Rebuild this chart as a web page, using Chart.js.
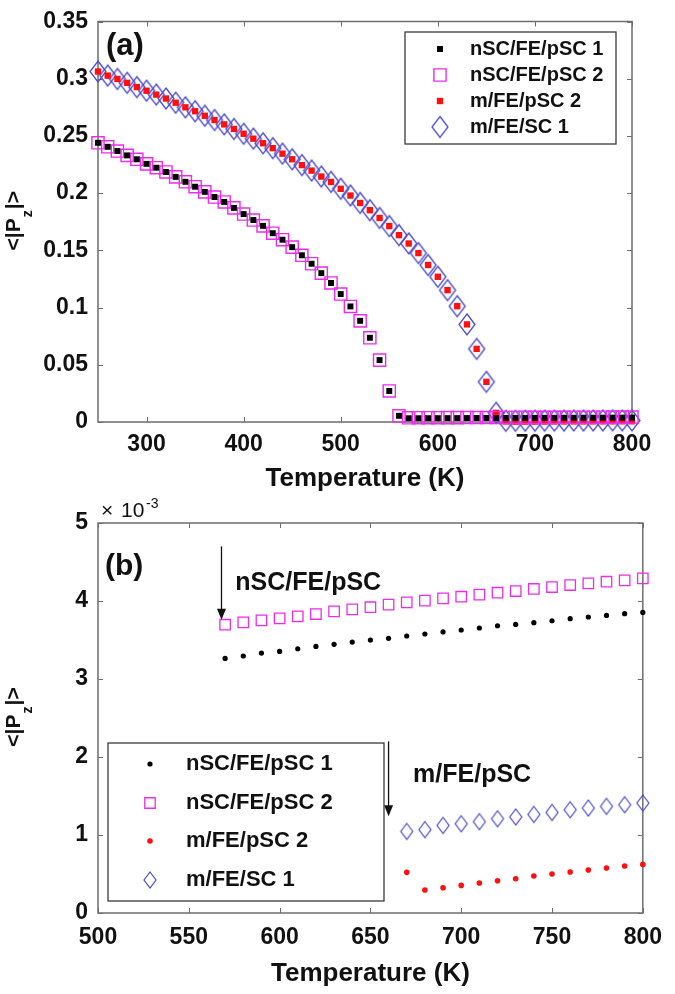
<!DOCTYPE html>
<html>
<head>
<meta charset="utf-8">
<title>&lt;|Pz|&gt; vs temperature</title>
<script src="https://cdn.jsdelivr.net/npm/chart.js@4.4.1/dist/chart.umd.min.js"></script>
<style>
  html, body { margin: 0; padding: 0; background: #fff; }
  #wrap { position: relative; width: 675px; height: 994px; }
  .panel { position: absolute; left: 0; width: 675px; }
  #panelA { top: 0; height: 492px; }
  #panelB { top: 492px; height: 502px; }
</style>
</head>
<body>
<div id="wrap">
  <div class="panel" id="panelA"><canvas id="chartA"></canvas></div>
  <div class="panel" id="panelB"><canvas id="chartB"></canvas></div>
</div>
<script>
// temperatures (K), one point every 10 K
const temps = [250, 260, 270, 280, 290, 300, 310, 320, 330, 340,
  350, 360, 370, 380, 390, 400, 410, 420, 430, 440,
  450, 460, 470, 480, 490, 500, 510, 520, 530, 540,
  550, 560, 570, 580, 590, 600, 610, 620, 630, 640,
  650, 660, 670, 680, 690, 700, 710, 720, 730, 740,
  750, 760, 770, 780, 790, 800];

// <|Pz|> (panel b gives the small values)
const nscPsc1 = [0.2440, 0.2405, 0.2368, 0.2330, 0.2296, 0.2256, 0.2222, 0.2185, 0.2142, 0.2099,
  0.2056, 0.2011, 0.1966, 0.1923, 0.1871, 0.1817, 0.1765, 0.1714, 0.1650, 0.1593,
  0.1528, 0.1457, 0.1383, 0.1301, 0.1215, 0.1118, 0.1010, 0.0884, 0.0736, 0.0541,
  0.0271, 0.0054, 0.003264, 0.003295, 0.003333, 0.003354, 0.003388, 0.003418, 0.003444, 0.003474,
  0.003500, 0.003521, 0.003551, 0.003577, 0.003603, 0.003628, 0.003654, 0.003683, 0.003700, 0.003722,
  0.003747, 0.003773, 0.003795, 0.003815, 0.003837, 0.003854];

const nscPsc2 = [0.2440, 0.2405, 0.2368, 0.2330, 0.2296, 0.2256, 0.2222, 0.2185, 0.2142, 0.2099,
  0.2056, 0.2011, 0.1966, 0.1923, 0.1871, 0.1817, 0.1765, 0.1714, 0.1650, 0.1593,
  0.1528, 0.1457, 0.1383, 0.1301, 0.1215, 0.1118, 0.1010, 0.0884, 0.0736, 0.0541,
  0.0271, 0.0054, 0.003696, 0.003726, 0.003751, 0.003777, 0.003803, 0.003833, 0.003867, 0.003892,
  0.003920, 0.003953, 0.003982, 0.004004, 0.004033, 0.004055, 0.004081, 0.004106, 0.004128, 0.004154,
  0.004179, 0.004205, 0.004226, 0.004247, 0.004264, 0.004290];

const mFePsc2 = [0.3063, 0.3027, 0.2998, 0.2964, 0.2927, 0.2895, 0.2861, 0.2827, 0.2790, 0.2750,
  0.2716, 0.2676, 0.2639, 0.2601, 0.2561, 0.2519, 0.2476, 0.2436, 0.2393, 0.2345,
  0.2296, 0.2245, 0.2197, 0.2145, 0.2098, 0.2038, 0.1979, 0.1914, 0.1851, 0.1783,
  0.1712, 0.1633, 0.1560, 0.1476, 0.1372, 0.1269, 0.1152, 0.1012, 0.0853, 0.0639,
  0.0351, 0.0080, 0.000521, 0.000295, 0.000324, 0.000354, 0.000385, 0.000414, 0.000440, 0.000474,
  0.000500, 0.000526, 0.000551, 0.000577, 0.000603, 0.000623];

const mFeSc1 = [0.3063, 0.3027, 0.2998, 0.2964, 0.2927, 0.2895, 0.2861, 0.2827, 0.2790, 0.2750,
  0.2716, 0.2676, 0.2639, 0.2601, 0.2561, 0.2519, 0.2476, 0.2436, 0.2393, 0.2345,
  0.2296, 0.2245, 0.2197, 0.2145, 0.2098, 0.2038, 0.1979, 0.1914, 0.1851, 0.1783,
  0.1712, 0.1633, 0.1560, 0.1476, 0.1372, 0.1269, 0.1152, 0.1012, 0.0853, 0.0639,
  0.0351, 0.0080, 0.001046, 0.001069, 0.001123, 0.001145, 0.001171, 0.001209, 0.001231, 0.001264,
  0.001290, 0.001324, 0.001346, 0.001367, 0.001388, 0.001410];

const seriesLabels = ['nSC/FE/pSC 1', 'nSC/FE/pSC 2', 'm/FE/pSC 2', 'm/FE/SC 1'];

const xTicksA = [300, 400, 500, 600, 700, 800];
const yTicksA = [0, 0.05, 0.1, 0.15, 0.2, 0.25, 0.3, 0.35];
const xTicksB = [500, 550, 600, 650, 700, 750, 800];
const yTicksB = [0, 0.001, 0.002, 0.003, 0.004, 0.005];

const FONT = '"Liberation Sans", Arial, Helvetica, sans-serif';
const INK = '#111';
const MAGENTA = '#ec2cec';
const BLUE = '#4848cc';
const RED = '#ff1010';

Chart.defaults.font.family = FONT;
Chart.defaults.color = INK;

// open diamond marker, a bit taller than wide like the matlab one
function diamond(w, h, color, lw) {
  const c = document.createElement('canvas');
  c.width = w + 4;
  c.height = h + 4;
  const g = c.getContext('2d');
  const cx = c.width / 2, cy = c.height / 2;
  g.strokeStyle = color;
  g.lineWidth = lw;
  g.beginPath();
  g.moveTo(cx, cy - h / 2);
  g.lineTo(cx + w / 2, cy);
  g.lineTo(cx, cy + h / 2);
  g.lineTo(cx - w / 2, cy);
  g.closePath();
  g.stroke();
  return c;
}

const stylesA = [
  { pointStyle: 'rect', pointRadius: 4.2, pointBackgroundColor: '#000', pointBorderColor: '#000', pointBorderWidth: 0 },
  { pointStyle: 'rect', pointRadius: 8.6, pointBackgroundColor: 'rgba(0,0,0,0)', pointBorderColor: MAGENTA, pointBorderWidth: 1.4 },
  { pointStyle: 'rect', pointRadius: 4.5, pointBackgroundColor: RED, pointBorderColor: RED, pointBorderWidth: 0 },
  { pointStyle: diamond(16, 21, BLUE, 1.3), pointRadius: 9, pointBackgroundColor: 'rgba(0,0,0,0)', pointBorderColor: BLUE, pointBorderWidth: 0 }
];
const stylesB = [
  { pointStyle: 'circle', pointRadius: 2.6, pointBackgroundColor: '#000', pointBorderColor: '#000', pointBorderWidth: 0 },
  { pointStyle: 'rect', pointRadius: 7.4, pointBackgroundColor: 'rgba(0,0,0,0)', pointBorderColor: MAGENTA, pointBorderWidth: 1.3 },
  { pointStyle: 'circle', pointRadius: 2.8, pointBackgroundColor: RED, pointBorderColor: RED, pointBorderWidth: 0 },
  { pointStyle: diamond(12, 16, BLUE, 1.2), pointRadius: 8, pointBackgroundColor: 'rgba(0,0,0,0)', pointBorderColor: BLUE, pointBorderWidth: 0 }
];

const allSeries = [nscPsc1, nscPsc2, mFePsc2, mFeSc1];

function points(ys, keep) {
  const out = [];
  temps.forEach(function(t, i) {
    if (keep(t, ys[i])) out.push({ x: t, y: ys[i] });
  });
  return out;
}

function drawMarker(ctx, st, x, y) {
  const p = st.pointStyle;
  ctx.save();
  if (p instanceof HTMLCanvasElement) {
    ctx.drawImage(p, x - p.width / 2, y - p.height / 2);
  } else {
    ctx.beginPath();
    if (p === 'rect') {
      const s = Math.SQRT1_2 * st.pointRadius;
      ctx.rect(x - s, y - s, 2 * s, 2 * s);
    } else {
      ctx.arc(x, y, st.pointRadius, 0, Math.PI * 2);
    }
    ctx.fillStyle = st.pointBackgroundColor;
    ctx.fill();
    if (st.pointBorderWidth > 0) {
      ctx.lineWidth = st.pointBorderWidth;
      ctx.strokeStyle = st.pointBorderColor;
      ctx.stroke();
    }
  }
  ctx.restore();
}

// <|P_z|> with a real subscript, rotated
function drawYTitle(ctx, bx, cy) {
  const main = 'bold 21px ' + FONT, sub = 'bold 14px ' + FONT;
  ctx.save();
  ctx.translate(bx, cy);
  ctx.rotate(-Math.PI / 2);
  ctx.fillStyle = INK;
  ctx.textBaseline = 'alphabetic';
  ctx.font = main;
  const w1 = ctx.measureText('<|P').width, w3 = ctx.measureText('|>').width;
  ctx.font = sub;
  const w2 = ctx.measureText('z').width;
  let x = -(w1 + w2 + w3) / 2;
  ctx.font = main; ctx.fillText('<|P', x, 0); x += w1;
  ctx.font = sub; ctx.fillText('z', x + 1, 12); x += w2 + 2;
  ctx.font = main; ctx.fillText('|>', x, 0);
  ctx.restore();
}

function drawArrow(ctx, x, y0, y1) {
  ctx.save();
  ctx.strokeStyle = INK;
  ctx.fillStyle = INK;
  ctx.lineWidth = 1.3;
  ctx.beginPath();
  ctx.moveTo(x, y0);
  ctx.lineTo(x, y1 - 8);
  ctx.stroke();
  ctx.beginPath();
  ctx.moveTo(x, y1);
  ctx.lineTo(x - 4.5, y1 - 11);
  ctx.lineTo(x + 4.5, y1 - 11);
  ctx.closePath();
  ctx.fill();
  ctx.restore();
}

// box + inward ticks on all four sides
const framePlugin = {
  id: 'frame',
  beforeDatasetsDraw(chart) {
    const ctx = chart.ctx, a = chart.chartArea, sx = chart.scales.x, sy = chart.scales.y;
    ctx.save();
    ctx.strokeStyle = '#6e6e6e';
    ctx.lineWidth = 1.5;
    ctx.strokeRect(a.left, a.top, a.right - a.left, a.bottom - a.top);
    ctx.lineWidth = 1;
    ctx.beginPath();
    sx.ticks.forEach(function(t) {
      const px = Math.round(sx.getPixelForValue(t.value)) + 0.5;
      ctx.moveTo(px, a.bottom); ctx.lineTo(px, a.bottom - 5);
      ctx.moveTo(px, a.top); ctx.lineTo(px, a.top + 5);
    });
    sy.ticks.forEach(function(t) {
      const py = Math.round(sy.getPixelForValue(t.value)) + 0.5;
      ctx.moveTo(a.left, py); ctx.lineTo(a.left + 5, py);
      ctx.moveTo(a.right, py); ctx.lineTo(a.right - 5, py);
    });
    ctx.stroke();
    ctx.restore();
  }
};

const overlayPlugin = {
  id: 'overlay',
  afterDraw(chart, args, o) {
    const ctx = chart.ctx, a = chart.chartArea, sx = chart.scales.x, sy = chart.scales.y;
    drawYTitle(ctx, o.yTitleX, (a.top + a.bottom) / 2);

    ctx.save();
    ctx.fillStyle = INK;
    ctx.textBaseline = 'alphabetic';
    ctx.font = 'bold ' + o.tag.size + 'px ' + FONT;
    ctx.fillText(o.tag.text, o.tag.x, o.tag.y);

    if (o.exponent) {
      ctx.font = '21px ' + FONT;
      ctx.fillText('\u00d7', o.exponent.x, o.exponent.y);
      ctx.fillText('10', o.exponent.x + 20, o.exponent.y);
      ctx.font = '14px ' + FONT;
      ctx.fillText('-3', o.exponent.x + 45, o.exponent.y - 9);
    }

    (o.arrows || []).forEach(function(ar) {
      drawArrow(ctx, sx.getPixelForValue(ar.x), sy.getPixelForValue(ar.y0), sy.getPixelForValue(ar.y1));
    });
    (o.notes || []).forEach(function(n) {
      ctx.font = 'bold ' + n.size + 'px ' + FONT;
      ctx.fillText(n.text, sx.getPixelForValue(n.x), sy.getPixelForValue(n.y));
    });
    ctx.restore();

    // legend box
    const L = o.legend;
    ctx.save();
    ctx.fillStyle = '#fff';
    ctx.fillRect(L.box[0], L.box[1], L.box[2] - L.box[0], L.box[3] - L.box[1]);
    ctx.strokeStyle = '#3a3a3a';
    ctx.lineWidth = 1.3;
    ctx.strokeRect(L.box[0], L.box[1], L.box[2] - L.box[0], L.box[3] - L.box[1]);
    ctx.fillStyle = INK;
    ctx.textBaseline = 'middle';
    ctx.font = 'bold ' + L.size + 'px ' + FONT;
    seriesLabels.forEach(function(lbl, i) {
      drawMarker(ctx, o.styles[i], L.markerX, L.rows[i]);
      ctx.fillStyle = INK;
      ctx.fillText(lbl, L.textX, L.rows[i]);
    });
    ctx.restore();
  }
};

function makeChart(id, styles, keep, sc, overlay) {
  const datasets = allSeries.map(function(ys, i) {
    return Object.assign({
      label: seriesLabels[i],
      data: points(ys, keep),
      showLine: false,
      clip: false
    }, styles[i]);
  });
  return new Chart(document.getElementById(id), {
    type: 'scatter',
    data: { datasets: datasets },
    options: {
      responsive: true,
      maintainAspectRatio: false,
      animation: false,
      events: [],
      layout: { padding: sc.padding },
      plugins: {
        legend: { display: false },
        tooltip: { enabled: false },
        overlay: overlay
      },
      scales: {
        x: {
          type: 'linear',
          min: sc.xMin,
          max: sc.xMax,
          grid: { display: false, drawTicks: false },
          border: { display: false },
          ticks: {
            font: { size: 23, weight: 'bold', lineHeight: 1 },
            color: INK,
            padding: sc.xTickPad,
            callback: function(v) { return String(v); }
          },
          afterBuildTicks: function(s) { s.ticks = sc.xTicks.map(function(v) { return { value: v }; }); },
          afterFit: function(s) { s.height = sc.xHeight; },
          title: {
            display: true,
            text: 'Temperature (K)',
            color: INK,
            font: { size: 26, weight: 'bold', lineHeight: 1 },
            padding: { top: 0, bottom: sc.xTitlePad }
          }
        },
        y: {
          type: 'linear',
          min: sc.yMin,
          max: sc.yMax,
          grid: { display: false, drawTicks: false },
          border: { display: false },
          ticks: {
            font: { size: 23, weight: 'bold', lineHeight: 1 },
            color: INK,
            padding: 10,
            callback: sc.yFormat
          },
          afterBuildTicks: function(s) { s.ticks = sc.yTicks.map(function(v) { return { value: v }; }); },
          afterFit: function(s) { s.width = 98; }
        }
      }
    },
    plugins: [framePlugin, overlayPlugin]
  });
}

// panel (a): full range
makeChart('chartA', stylesA, function() { return true; }, {
  padding: { top: 13, right: 43, bottom: 0, left: 0 },
  xMin: 250, xMax: 800, yMin: 0, yMax: 0.35,
  xTicks: xTicksA, yTicks: yTicksA,
  xTickPad: 11, xHeight: 70, xTitlePad: 0,
  yFormat: function(v) { return String(+v.toFixed(2)); }
}, {
  styles: stylesA,
  yTitleX: 20,
  tag: { text: '(a)', size: 31, x: 106, y: 55 },
  legend: { box: [405, 32, 616, 144], markerX: 440, textX: 470, rows: [49, 75, 101, 127], size: 20 }
});

// panel (b): zoom on the small values above the transition
makeChart('chartB', stylesB, function(t, y) { return t >= 500 && y <= 0.005; }, {
  padding: { top: 31, right: 26, bottom: 0, left: 0 },
  xMin: 500, xMax: 800, yMin: 0, yMax: 0.005,
  xTicks: xTicksB, yTicks: yTicksB,
  xTickPad: 13, xHeight: 81, xTitlePad: 7,
  yFormat: function(v) { return String(Math.round(v * 1000)); }
}, {
  styles: stylesB,
  yTitleX: 20,
  tag: { text: '(b)', size: 30, x: 105, y: 83 },
  exponent: { x: 101, y: 25 },
  arrows: [{ x: 568, y0: 0.0047, y1: 0.00376 }, { x: 660, y0: 0.0022, y1: 0.00124 }],
  notes: [{ text: 'nSC/FE/pSC', size: 25, x: 575.6, y: 0.004145 }, { text: 'm/FE/pSC', size: 25, x: 673.5, y: 0.001683 }],
  legend: { box: [108, 251, 384, 409], markerX: 150, textX: 186, rows: [272, 311, 349, 388], size: 22 }
});
</script>
</body>
</html>
